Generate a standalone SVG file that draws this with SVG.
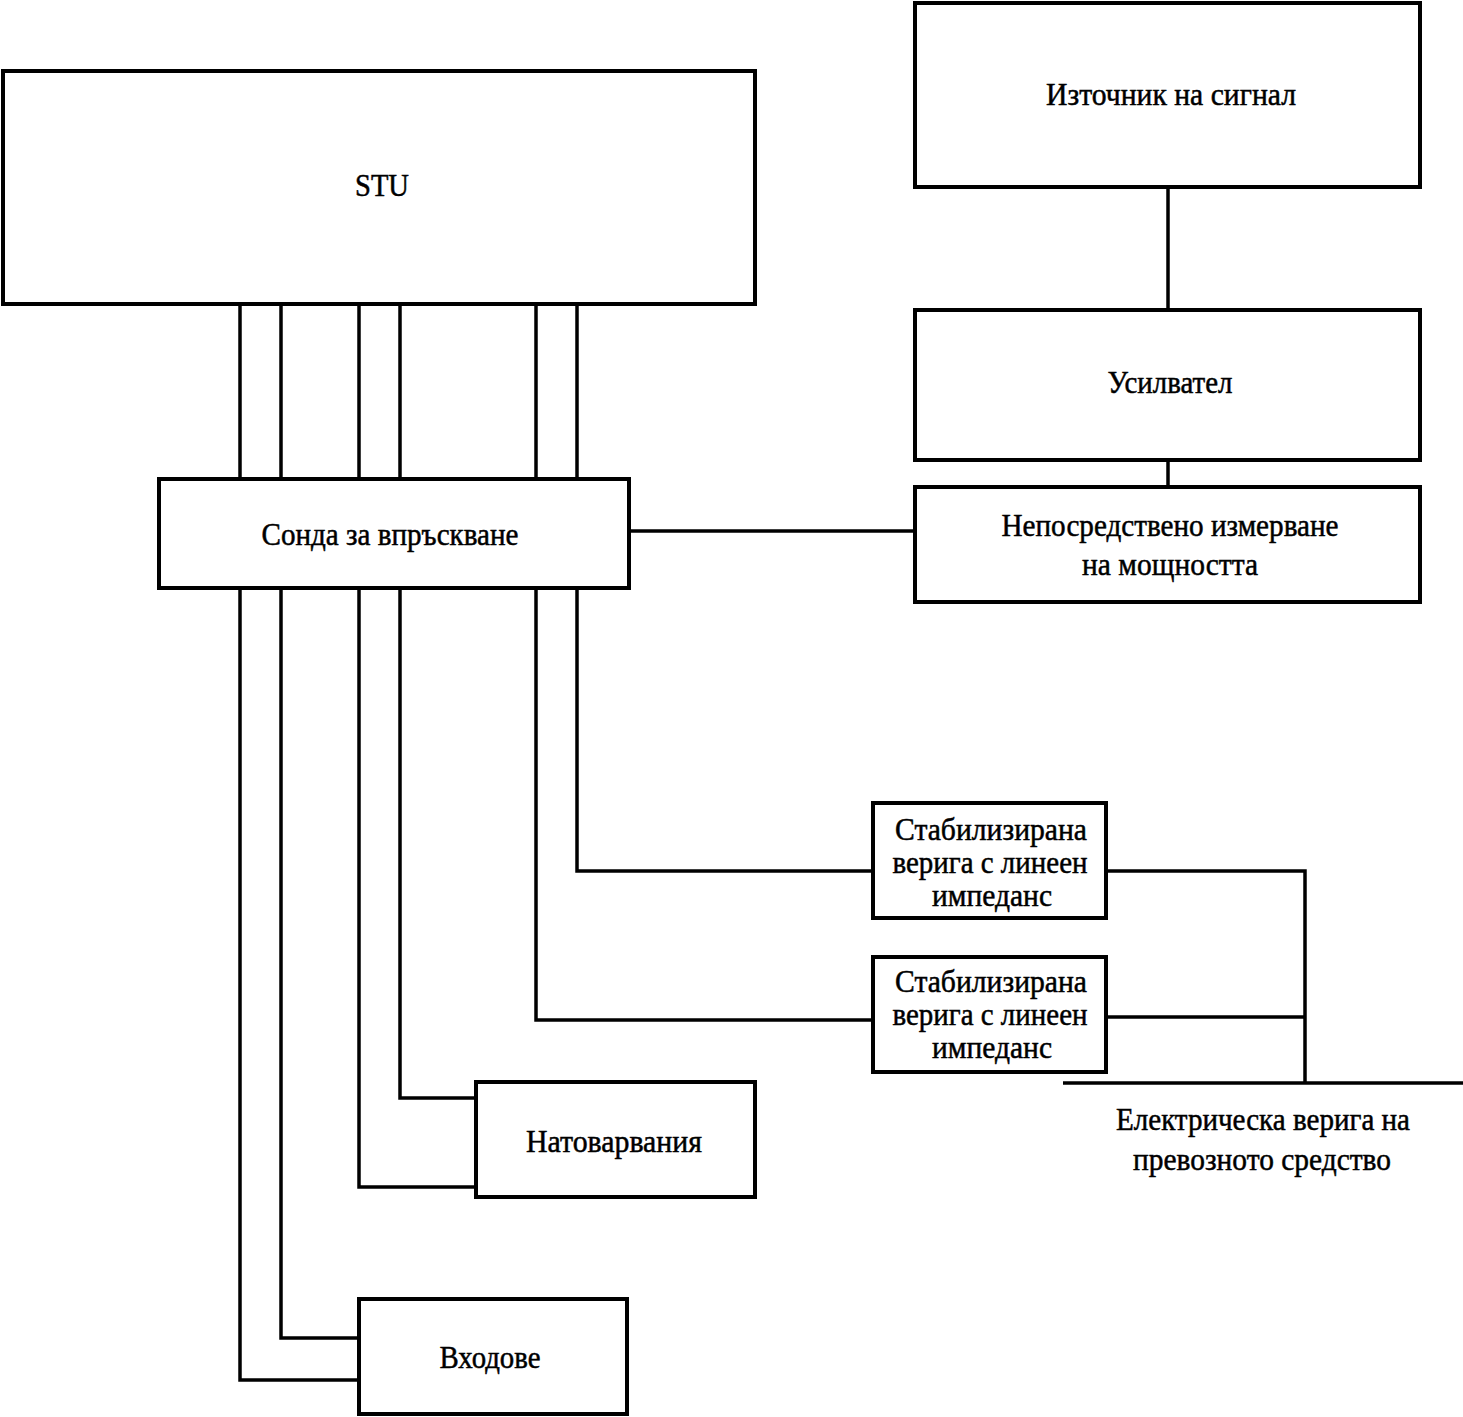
<svg xmlns="http://www.w3.org/2000/svg" width="1463" height="1417" viewBox="0 0 1463 1417">
<style>
.box{fill:#fff;stroke:#000;stroke-width:4}
.ln{fill:none;stroke:#000;stroke-width:3.5;stroke-linejoin:miter}
text{font-family:"Liberation Serif","DejaVu Serif",serif;font-size:31px;fill:#000;stroke:#000;stroke-width:0.5;text-anchor:middle}
</style>
<rect width="1463" height="1417" fill="#fff"/>
<g id="connectors">
<path class="ln" d="M240,304V1380H359"/>
<path class="ln" d="M281,304V1338H359"/>
<path class="ln" d="M359,304V1187H476"/>
<path class="ln" d="M400,304V1098H476"/>
<path class="ln" d="M536,304V1020H873"/>
<path class="ln" d="M577,304V871H873"/>
<path class="ln" d="M629,531H915"/>
<path class="ln" d="M1168,187V310"/>
<path class="ln" d="M1168,460V487"/>
<path class="ln" d="M1106,871H1305V1083"/>
<path class="ln" d="M1106,1017H1305"/>
<path class="ln" d="M1063,1083H1463"/>
</g>
<g id="stu"><rect class="box" x="3" y="71" width="752" height="233"/><text x="382" y="196" textLength="54" lengthAdjust="spacingAndGlyphs">STU</text></g>
<g id="source"><rect class="box" x="915" y="3" width="505" height="184"/><text x="1171" y="105" textLength="250" lengthAdjust="spacingAndGlyphs">Източник на сигнал</text></g>
<g id="amplifier"><rect class="box" x="915" y="310" width="505" height="150"/><text x="1170" y="393" textLength="125" lengthAdjust="spacingAndGlyphs">Усилвател</text></g>
<g id="measure"><rect class="box" x="915" y="487" width="505" height="115"/><text x="1170" y="536" textLength="337" lengthAdjust="spacingAndGlyphs">Непосредствено измерване</text><text x="1170" y="575" textLength="176" lengthAdjust="spacingAndGlyphs">на мощността</text></g>
<g id="probe"><rect class="box" x="159" y="479" width="470" height="109"/><text x="390" y="545" textLength="257" lengthAdjust="spacingAndGlyphs">Сонда за впръскване</text></g>
<g id="lisn1"><rect class="box" x="873" y="803" width="233" height="115"/><text x="991" y="840" textLength="192" lengthAdjust="spacingAndGlyphs">Стабилизирана</text><text x="990" y="873" textLength="195" lengthAdjust="spacingAndGlyphs">верига с линеен</text><text x="992" y="906" textLength="120" lengthAdjust="spacingAndGlyphs">импеданс</text></g>
<g id="lisn2"><rect class="box" x="873" y="957" width="233" height="115"/><text x="991" y="992" textLength="192" lengthAdjust="spacingAndGlyphs">Стабилизирана</text><text x="990" y="1025" textLength="195" lengthAdjust="spacingAndGlyphs">верига с линеен</text><text x="992" y="1058" textLength="120" lengthAdjust="spacingAndGlyphs">импеданс</text></g>
<g id="loads"><rect class="box" x="476" y="1082" width="279" height="115"/><text x="614" y="1152" textLength="176" lengthAdjust="spacingAndGlyphs">Натоварвания</text></g>
<g id="inputs"><rect class="box" x="359" y="1299" width="268" height="115"/><text x="490" y="1368" textLength="101" lengthAdjust="spacingAndGlyphs">Входове</text></g>
<g id="vehicle"><text x="1263" y="1130" textLength="294" lengthAdjust="spacingAndGlyphs">Електрическа верига на</text><text x="1262" y="1170" textLength="258" lengthAdjust="spacingAndGlyphs">превозното средство</text></g>
</svg>
